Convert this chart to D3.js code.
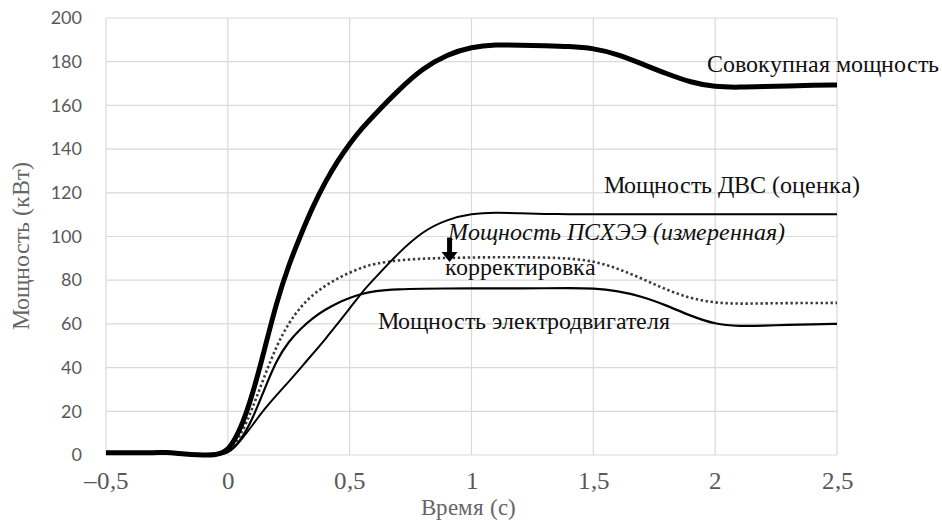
<!DOCTYPE html>
<html>
<head>
<meta charset="utf-8">
<script src="https://cdn.jsdelivr.net/npm/d3@7"></script>
<style>
  @font-face { font-family: "ChartSerif"; font-style: normal; src: local("Liberation Serif"), local("LiberationSerif"), local("Times New Roman"); }
  @font-face { font-family: "ChartSerif"; font-style: italic; src: local("Liberation Serif Italic"), local("LiberationSerif-Italic"), local("Times New Roman Italic"); }
</style>
</head>
<body style="margin:0">
<svg id="chart" width="942" height="522"></svg>
<script>
// ---- data ----
const time = [-0.5,-0.4,-0.3,-0.25,-0.2,-0.15,-0.1,-0.05,0,0.05,0.1,0.15,0.2,0.25,0.3,0.35,0.4,0.45,0.5,0.55,0.6,0.7,0.8,0.9,1.0,1.1,1.2,1.3,1.4,1.5,1.6,1.7,1.8,1.9,2.0,2.1,2.2,2.3,2.4,2.5];
const totalPower = [1,1,1,1.3,0.6,0.2,0,0,1.5,11,27,48,70,87,101,114,125,134.5,142.5,149.5,155.5,167,177,183.3,186.8,187.8,187.6,187.3,187,186.2,183.4,179,174.5,170.5,168.4,168.3,168.6,168.9,169.2,169.3];
const icePower = [1,1,1,1.3,0.6,0.2,0,0,0.5,6,13.5,21,27.5,33.5,40,46.5,53,60,67,74.5,80.5,92.5,102.5,107.8,110.5,111,110.6,110.3,110.2,110.2,110.2,110.2,110.2,110.2,110.2,110.2,110.2,110.2,110.2,110.2];
const measuredPower = [1,1,1,1.3,0.6,0.2,0,0,1,8,21,36,50,60.5,68,73.5,77.5,80.8,83.5,85.8,87.5,89.2,89.9,90.2,90.4,90.5,90.5,90.4,90,88.8,85.4,80.7,75.6,71.6,69.6,69.2,69.4,69.5,69.6,69.6];
const motorPower = [1,1,1,1.3,0.6,0.2,0,0,0.5,6,16,30,43.5,52,58,62.8,66.6,69.6,71.9,73.8,75.1,75.9,76.1,76.2,76.3,76.3,76.3,76.3,76.4,76.3,75.1,72.6,68.5,63.6,59.8,58.9,59.2,59.6,59.8,60];

const xTicks = [-0.5, 0, 0.5, 1, 1.5, 2, 2.5];
const xTickLabels = ["–0,5", "0", "0,5", "1", "1,5", "2", "2,5"];
const yTicks = [0, 20, 40, 60, 80, 100, 120, 140, 160, 180, 200];

const xTitle = "Время (с)";
const yTitle = "Мощность (кВт)";

// annotation labels: text, anchor point in data units
const labelTexts = ["Совокупная мощность", "Мощность ДВС (оценка)", "Мощность ПСХЭЭ (измеренная)", "корректировка", "Мощность электродвигателя"];
const labelT = [1.967, 1.545, 0.902, 0.893, 0.615];
const labelV = [175.3, 119.9, 98.2, 82.4, 57.7];
const labelItalic = [false, false, true, false, false];
// correction arrow (data units)
const arrowT = 0.91, arrowFrom = 99.5, arrowTo = 88.3;

const SERIF = '"ChartSerif", "Liberation Serif"';

// ---- scales ----
const svg = d3.select("#chart");
const x = d3.scaleLinear().domain([-0.5, 2.5]).range([106, 837]);
const y = d3.scaleLinear().domain([0, 200]).range([455, 18]);

// grid
const grid = svg.append("g");
grid.selectAll("line.h").data(yTicks).join("line")
  .attr("x1", x(-0.5)).attr("x2", x(2.5))
  .attr("y1", d => y(d)).attr("y2", d => y(d))
  .attr("stroke", "#d9d9d9").attr("stroke-width", 1.2);
grid.selectAll("line.v").data(xTicks).join("line")
  .attr("y1", y(0)).attr("y2", y(200))
  .attr("x1", d => x(d)).attr("x2", d => x(d))
  .attr("stroke", "#d9d9d9").attr("stroke-width", 1.2);

// y tick labels (sans)
const yAxis = d3.axisLeft(y).tickValues(yTicks).tickSize(0).tickPadding(24);
const gy = svg.append("g").attr("transform", `translate(${x(-0.5)},0)`).call(yAxis);
gy.attr("font-family", "Lato").attr("font-size", 18);
gy.select(".domain").remove();
gy.selectAll("text").attr("fill", "#595959");

// x tick labels (serif)
const xAxis = d3.axisBottom(x).tickValues(xTicks).tickFormat((d, i) => xTickLabels[i]).tickSize(0).tickPadding(0);
const gx = svg.append("g").attr("transform", `translate(0,${y(0)})`).call(xAxis);
gx.attr("font-family", null).attr("font-size", null);
gx.select(".domain").remove();
gx.selectAll("text").style("font-family", SERIF).style("font-size", "25px")
  .attr("fill", "#595959").attr("dy", null).attr("y", 34);

// titles
svg.append("text").attr("x", 468).attr("y", 515).attr("text-anchor", "middle")
  .style("font-family", SERIF).style("font-size", "23px").attr("fill", "#666").text(xTitle);
svg.append("text").attr("transform", "translate(29,246) rotate(-90)").attr("text-anchor", "middle")
  .style("font-family", SERIF).style("font-size", "24px").attr("fill", "#666").text(yTitle);

// lines
const line = vals => d3.line().x((d, i) => x(time[i])).y(d => y(d)).curve(d3.curveBasis)(vals);
svg.append("path").attr("d", line(measuredPower)).attr("fill", "none")
  .attr("stroke", "#3a3a3a").attr("stroke-width", 2.6).attr("stroke-dasharray", "2.4,2.6");
svg.append("path").attr("d", line(icePower)).attr("fill", "none").attr("stroke", "#000").attr("stroke-width", 2);
svg.append("path").attr("d", line(motorPower)).attr("fill", "none").attr("stroke", "#000").attr("stroke-width", 2.2);
svg.append("path").attr("d", line(totalPower)).attr("fill", "none").attr("stroke", "#000").attr("stroke-width", 5);

// annotations
svg.append("g").selectAll("text").data(labelTexts).join("text")
  .attr("x", (d, i) => x(labelT[i])).attr("y", (d, i) => y(labelV[i]))
  .style("font-family", SERIF).style("font-size", "24px")
  .style("font-style", (d, i) => labelItalic[i] ? "italic" : "normal")
  .attr("fill", "#111").text(d => d);

// correction arrow
const ax = x(arrowT), ay0 = y(arrowFrom), ay1 = y(arrowTo);
svg.append("rect").attr("x", ax - 2.5).attr("y", ay0).attr("width", 5).attr("height", (ay1 - ay0) - 9).attr("fill", "#000");
svg.append("path").attr("d", `M${ax - 8},${ay1 - 10} L${ax + 8},${ay1 - 10} L${ax},${ay1} Z`).attr("fill", "#000");
</script>
</body>
</html>
